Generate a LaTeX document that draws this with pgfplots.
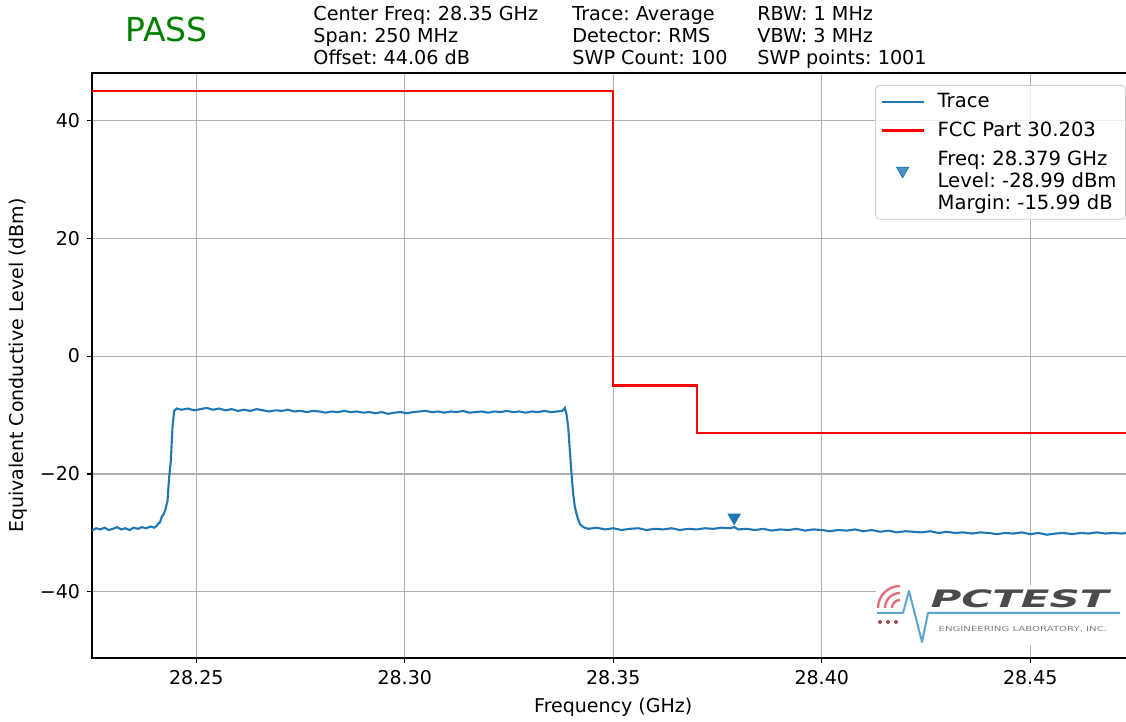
\documentclass[border=0pt]{standalone}
\usepackage{fontspec}
\setmainfont{DejaVu Sans}
\usepackage{pgfplots}
\pgfplotsset{compat=1.18}
\definecolor{trace}{HTML}{1F77B4}
\definecolor{gridgray}{HTML}{B0B0B0}
\definecolor{legedge}{HTML}{CCCCCC}
\definecolor{passgreen}{HTML}{008000}
\definecolor{logoblue}{HTML}{5BA3D0}
\definecolor{logored}{HTML}{E0707A}
\definecolor{logogray}{HTML}{4A4A4A}
\frenchspacing

\begin{document}
\begin{tikzpicture}
\begin{axis}[
    at={(46pt,32pt)}, anchor=south west,
    scale only axis,
    width=521.25pt, height=292.5pt,
    xmin=28.225, xmax=28.475,
    ymin=-51.2, ymax=48,
    xtick={28.25,28.30,28.35,28.40,28.45},
    xticklabels={28.25,28.30,28.35,28.40,28.45},
    ytick={-40,-20,0,20,40},
    yticklabels={−40,−20,0,20,40},
    xtick pos=bottom, ytick pos=left,
    tick align=outside,
    major tick length=2.45pt,
    every tick/.style={black, line width=0.55pt},
    axis line style={line width=0.6pt, black},
    grid=major,
    major grid style={gridgray, line width=0.55pt},
    font=\fontsize{9.5}{11}\selectfont,
    ticklabel style={font=\fontsize{9.5}{11}\selectfont},
    xlabel={Frequency (GHz)},
    ylabel={Equivalent Conductive Level (dBm)},
    xlabel style={at={(axis description cs:0.5,0)}, anchor=base, yshift=-27.5pt},
    ylabel style={at={(axis description cs:0,0.5)}, anchor=center, yshift=37pt},
    legend image code/.code={\draw[mark repeat=2,mark phase=2,#1] plot coordinates {(0pt,0pt) (10.5pt,0pt) (21pt,0pt)};},
    legend cell align=left,
    legend style={at={(rel axis cs:1,1)}, anchor=north east, xshift=-4.25pt, yshift=-6pt,
        draw=legedge, rounded corners=2pt, fill=white, fill opacity=0.8, text opacity=1,
        font=\fontsize{9.8}{11}\selectfont, inner xsep=2.5pt, inner ysep=2pt,
        row sep=1.5pt, column sep=4.5pt},
]
\addplot[trace, line width=1.05pt, mark=none] coordinates {
(28.225,-29.6) (28.226,-29.2) (28.227,-29.4) (28.228,-29.1) (28.229,-29.5)
(28.230,-29.3) (28.231,-29.0) (28.232,-29.4) (28.233,-29.2) (28.234,-29.5)
(28.235,-29.1) (28.236,-29.3) (28.237,-29.0) (28.238,-29.2) (28.239,-28.9)
(28.240,-29.1) (28.2405,-28.8) (28.2409,-28.4) (28.2413,-28.2) (28.2417,-27.3)
(28.2421,-26.9) (28.2425,-26.3) (28.2431,-24.6) (28.2435,-20.6) (28.2439,-17.8)
(28.2443,-12.1) (28.2447,-9.3) (28.2453,-8.9) (28.2465,-9.1) (28.248,-8.9)
(28.2495,-9.2) (28.251,-9.0) (28.2525,-8.8) (28.254,-9.1) (28.2555,-8.9)
(28.257,-9.2) (28.2585,-9.0) (28.260,-9.3) (28.2615,-9.1) (28.263,-9.3)
(28.2645,-9.0) (28.266,-9.2) (28.2675,-9.4) (28.269,-9.2) (28.2705,-9.3)
(28.272,-9.1) (28.2735,-9.4) (28.275,-9.3) (28.2765,-9.5) (28.278,-9.3)
(28.2795,-9.4) (28.281,-9.6) (28.2825,-9.4) (28.284,-9.5) (28.2855,-9.3)
(28.287,-9.5) (28.2885,-9.4) (28.290,-9.6) (28.2915,-9.5) (28.293,-9.7)
(28.2945,-9.5) (28.296,-9.8) (28.2975,-9.6) (28.299,-9.5) (28.3005,-9.7)
(28.302,-9.5) (28.3035,-9.4) (28.305,-9.3) (28.3065,-9.5) (28.308,-9.4)
(28.3095,-9.6) (28.311,-9.4) (28.3125,-9.5) (28.314,-9.3) (28.3155,-9.6)
(28.317,-9.5) (28.3185,-9.4) (28.320,-9.6) (28.3215,-9.4) (28.323,-9.5)
(28.3245,-9.3) (28.326,-9.5) (28.3275,-9.4) (28.329,-9.6) (28.3305,-9.4)
(28.332,-9.5) (28.3335,-9.3) (28.335,-9.5) (28.3365,-9.4) (28.3378,-9.3)
(28.3384,-8.8) (28.3388,-9.9) (28.3392,-12.1) (28.3396,-16.1) (28.3400,-20.0)
(28.3404,-23.4) (28.3408,-25.6) (28.3414,-27.3) (28.3420,-28.5) (28.3428,-29.0)
(28.3440,-29.3) (28.346,-29.1) (28.348,-29.4) (28.350,-29.2) (28.352,-29.5)
(28.354,-29.3) (28.356,-29.2) (28.358,-29.5) (28.360,-29.3) (28.362,-29.4)
(28.364,-29.2) (28.366,-29.5) (28.368,-29.3) (28.370,-29.4) (28.372,-29.2)
(28.374,-29.3) (28.376,-29.1) (28.378,-29.2) (28.379,-29.0) (28.380,-29.4)
(28.382,-29.3) (28.384,-29.5) (28.386,-29.3) (28.388,-29.6) (28.390,-29.4)
(28.392,-29.5) (28.394,-29.3) (28.396,-29.6) (28.398,-29.4) (28.400,-29.5)
(28.402,-29.7) (28.404,-29.5) (28.406,-29.6) (28.408,-29.4) (28.410,-29.7)
(28.412,-29.5) (28.414,-29.8) (28.416,-29.6) (28.418,-29.9) (28.420,-29.7)
(28.422,-29.8) (28.424,-29.9) (28.426,-29.7) (28.428,-30.0) (28.430,-29.8)
(28.432,-30.0) (28.434,-29.9) (28.436,-30.1) (28.438,-29.9) (28.440,-30.0)
(28.442,-30.2) (28.444,-30.0) (28.446,-30.1) (28.448,-29.9) (28.450,-30.2)
(28.452,-30.0) (28.454,-30.3) (28.456,-30.1) (28.458,-30.0) (28.460,-30.2)
(28.462,-30.0) (28.464,-30.1) (28.466,-29.9) (28.468,-30.1) (28.470,-30.0)
(28.472,-30.1) (28.474,-29.9) (28.475,-30.0)
};
\addlegendentry{Trace}
\addplot[red, line width=1.05pt, mark=none, const plot,
    legend image code/.code={\draw[red, line width=1.05pt] (0pt,0pt) -- (21pt,0pt);}] coordinates {
(28.225,45) (28.35,-5) (28.37,-13) (28.475,-13)
};
\addlegendentry{FCC Part 30.203}
\addplot[only marks, mark=triangle*, mark size=3.5pt,
    mark options={rotate=180, fill=trace, draw=trace}] coordinates {(28.379,-27.4)};
\addlegendentry{\begin{tabular}{@{}l@{}}Freq: 28.379 GHz\\Level: -28.99 dBm\\Margin: -15.99 dB\end{tabular}}
\addlegendimage{empty legend}
\addlegendentry{\rule{0pt}{3pt}}
\end{axis}

% header and logo, in pixel coordinates of the 1126x722 picture
\begin{scope}[x=0.5pt, y=-0.5pt, shift={(0,361pt)}]
\node[anchor=base west, inner sep=0, text=passgreen, font=\fontsize{16.5}{20}\selectfont] at (125,42) {PASS};
\begin{scope}[every node/.style={anchor=base west, inner sep=0, font=\fontsize{9.6}{11}\selectfont}]
\node at (313,21) {Center Freq: 28.35 GHz};
\node at (313,43) {Span: 250 MHz};
\node at (313,65) {Offset: 44.06 dB};
\node at (572,21) {Trace: Average};
\node at (572,43) {Detector: RMS};
\node at (572,65) {SWP Count: 100};
\node at (757,21) {RBW: 1 MHz};
\node at (757,43) {VBW: 3 MHz};
\node at (757,65) {SWP points: 1001};
\end{scope}
% logo
\fill[white] (876,585) rectangle (1126,645);
\foreach \r in {8,15,22} \draw[logored, line width=1.2pt] (900,608) ++(180:\r) arc (180:270:\r);
\foreach \xx in {880,888,896} \fill[logored!70!black] (\xx,622) circle (1pt);
\draw[logoblue, line width=1pt, line join=round] (877,613) -- (903,613) -- (909,591) -- (922,642) -- (928,613) -- (1120,613);
\node[anchor=base west, inner sep=0, text=logogray, xscale=1.75, font=\fontsize{12}{12}\bfseries\itshape] at (930,607.5) {PCTEST};
\node[anchor=base west, inner sep=0, text=logogray!70, xscale=1.45, font=\fontsize{3.5}{4}\selectfont] at (938,632) {ENGINEERING LABORATORY, INC.};
\end{scope}
\pgfresetboundingbox
\path[use as bounding box] (0,0) rectangle (563pt,361pt);
\end{tikzpicture}
\end{document}
